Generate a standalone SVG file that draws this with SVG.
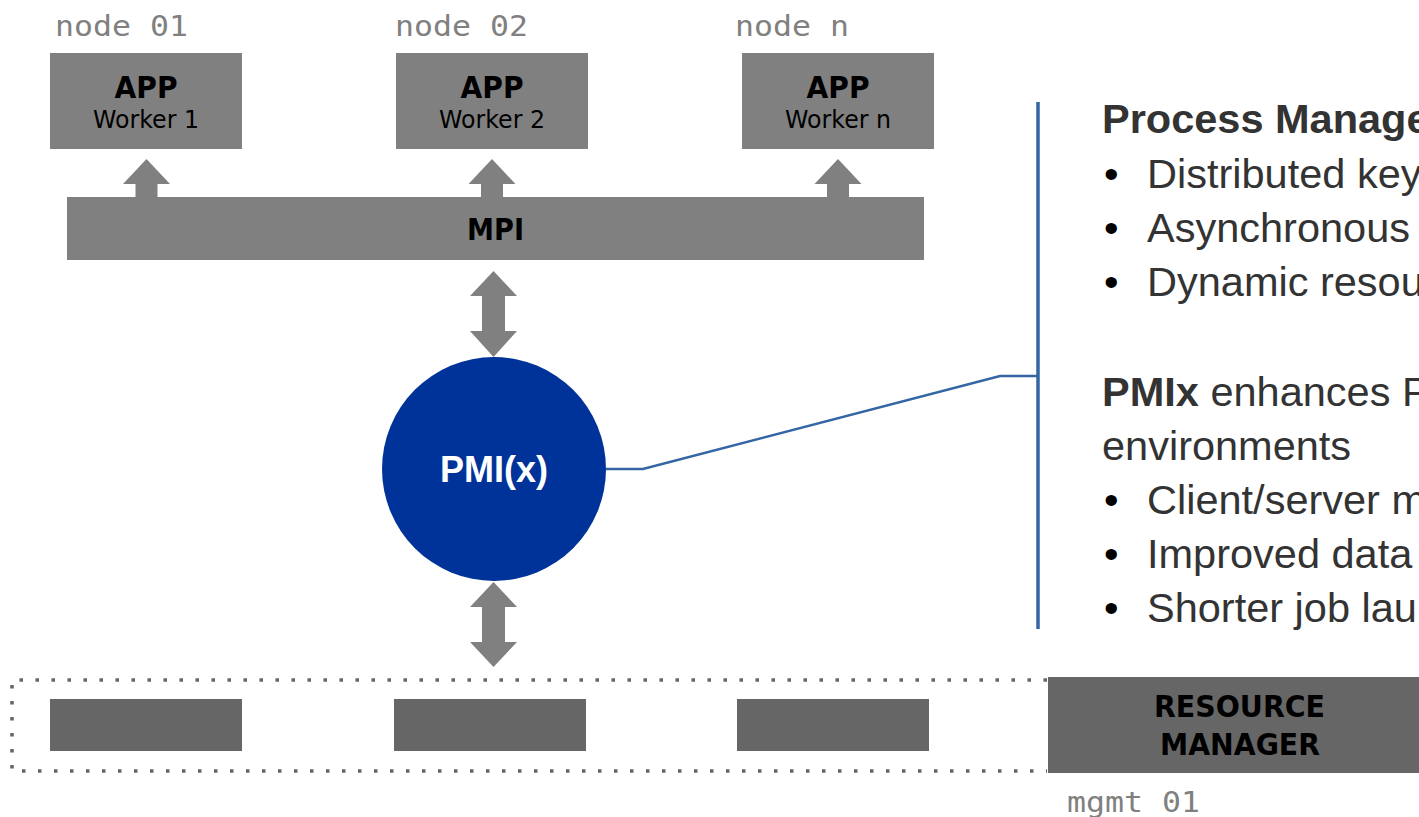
<svg xmlns="http://www.w3.org/2000/svg" width="1419" height="817" viewBox="0 0 1419 817">
<style>
.box{fill:#808080}
.dbox{fill:#666666}
.arrow{fill:#808080}
.lbl{font-family:"DejaVu Sans Mono",monospace;font-size:29px;fill:#808080}
.app{font-family:"DejaVu Sans",sans-serif;font-weight:bold;font-size:31px;fill:#000}
.wrk{font-family:"DejaVu Sans",sans-serif;font-size:24px;fill:#000}
.bold{font-family:"DejaVu Sans",sans-serif;font-weight:bold;font-size:30px;fill:#000}
.pmi{font-family:"Liberation Sans",Arial,sans-serif;font-weight:bold;font-size:36px;fill:#fff}
.desc{font-family:"Liberation Sans",Arial,sans-serif;font-size:41.5px;fill:#333333}
.bul{font-family:"Liberation Sans",Arial,sans-serif;font-size:41.5px;fill:#000}
.conn{fill:none;stroke:#3465a4;stroke-width:2.5}
</style>
<rect width="1419" height="817" fill="#ffffff"/>

<g id="node01">
<text class="lbl" x="55" y="36" textLength="133" lengthAdjust="spacingAndGlyphs">node 01</text>
<rect class="box" x="50" y="53" width="192" height="96"/>
<text class="app" x="114.5" y="98" textLength="63" lengthAdjust="spacingAndGlyphs">APP</text>
<text class="wrk" x="93" y="128" textLength="106" lengthAdjust="spacingAndGlyphs">Worker 1</text>
</g>
<g id="node02">
<text class="lbl" x="395" y="36" textLength="133" lengthAdjust="spacingAndGlyphs">node 02</text>
<rect class="box" x="396" y="53" width="192" height="96"/>
<text class="app" x="460.5" y="98" textLength="63" lengthAdjust="spacingAndGlyphs">APP</text>
<text class="wrk" x="439" y="128" textLength="106" lengthAdjust="spacingAndGlyphs">Worker 2</text>
</g>
<g id="noden">
<text class="lbl" x="735" y="36" textLength="114" lengthAdjust="spacingAndGlyphs">node n</text>
<rect class="box" x="742" y="53" width="192" height="96"/>
<text class="app" x="806.5" y="98" textLength="63" lengthAdjust="spacingAndGlyphs">APP</text>
<text class="wrk" x="785" y="128" textLength="106" lengthAdjust="spacingAndGlyphs">Worker n</text>
</g>

<g id="mpi">
<rect class="box" x="67" y="197" width="857" height="63"/>
<text class="bold" x="467" y="240" textLength="57" lengthAdjust="spacingAndGlyphs">MPI</text>
</g>

<g id="pmix">
<circle cx="494" cy="469" r="112" fill="#003399"/>
<text class="pmi" x="494" y="482" text-anchor="middle">PMI(x)</text>
</g>

<g id="compute-nodes">
<path d="M1047,680 H12 V771 H1047" fill="none" stroke="#666666" stroke-width="3.5" stroke-dasharray="3.5 12.5"/>
<rect class="dbox" x="50" y="699" width="192" height="52"/>
<rect class="dbox" x="394" y="699" width="192" height="52"/>
<rect class="dbox" x="737" y="699" width="192" height="52"/>
</g>

<g id="resource-manager">
<rect class="dbox" x="1048" y="677" width="380" height="96"/>
<text class="bold" x="1154" y="717" textLength="171" lengthAdjust="spacingAndGlyphs">RESOURCE</text>
<text class="bold" x="1160" y="755" textLength="160" lengthAdjust="spacingAndGlyphs">MANAGER</text>
<text class="lbl" x="1067" y="812" textLength="133" lengthAdjust="spacingAndGlyphs">mgmt 01</text>
</g>

<g id="description">
<text class="desc" x="1102" y="133" font-weight="bold">Process Manage</text>
<text class="bul" x="1104" y="188">•</text>
<text class="desc" x="1147" y="188">Distributed key</text>
<text class="bul" x="1104" y="242">•</text>
<text class="desc" x="1147" y="242">Asynchronous</text>
<text class="bul" x="1104" y="296">•</text>
<text class="desc" x="1147" y="296">Dynamic resou</text>
<text class="desc" x="1102" y="406"><tspan font-weight="bold">PMIx</tspan> enhances P</text>
<text class="desc" x="1102" y="460">environments</text>
<text class="bul" x="1104" y="514">•</text>
<text class="desc" x="1147" y="514">Client/server m</text>
<text class="bul" x="1104" y="568">•</text>
<text class="desc" x="1147" y="568">Improved data</text>
<text class="bul" x="1104" y="622">•</text>
<text class="desc" x="1147" y="622">Shorter job lau</text>
</g>

<g id="connectors">
<polygon class="arrow" points="146.5,159 170,184 157.5,184 157.5,197 135.5,197 135.5,184 123,184"/>
<polygon class="arrow" points="492,159 515.5,184 503,184 503,197 481,197 481,184 468.5,184"/>
<polygon class="arrow" points="838,159 861.5,184 849,184 849,197 827,197 827,184 814.5,184"/>
<polygon class="arrow" points="493.5,271 517,296 505,296 505,331 517,331 493.5,357 470,331 482,331 482,296 470,296"/>
<polygon class="arrow" points="493.5,582 517,607 505,607 505,642 517,642 493.5,667 470,642 482,642 482,607 470,607"/>
<polyline class="conn" points="606,469 643,469 1000,376 1038,376"/>
<line x1="1038" y1="102" x2="1038" y2="629" stroke="#3465a4" stroke-width="3.5"/>
</g>
</svg>
